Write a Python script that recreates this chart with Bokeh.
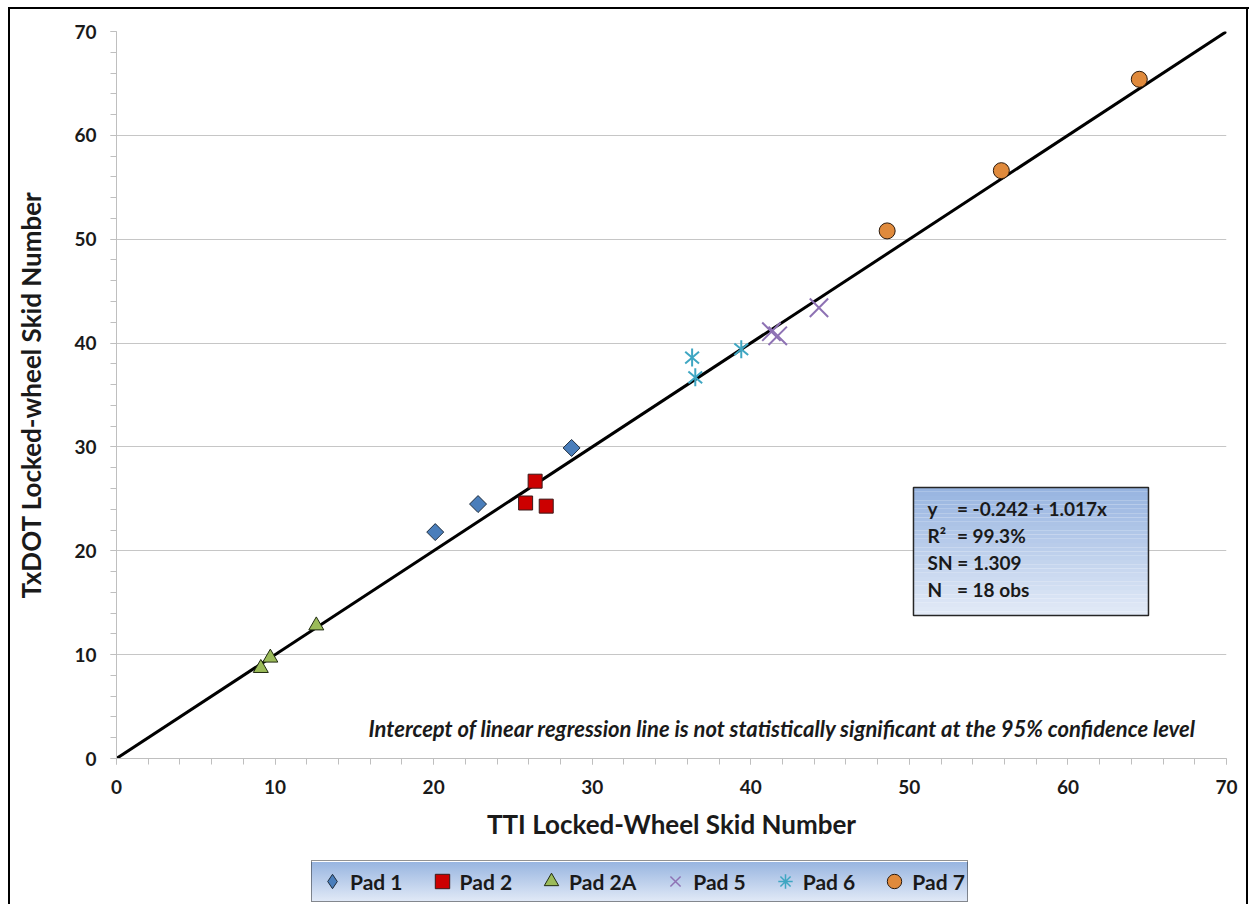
from bokeh.plotting import figure
from bokeh.layouts import column
from bokeh.models import FixedTicker, Label, Legend, LegendItem, Range1d
from bokeh.embed import file_html
from bokeh.resources import INLINE

# ---- data ----
pad1_x = [20.1, 22.8, 28.7]
pad1_y = [21.8, 24.5, 29.9]
pad2_x = [26.4, 25.8, 27.1]
pad2_y = [26.7, 24.6, 24.3]
pad2a_x = [9.1, 9.7, 12.6]
pad2a_y = [8.7, 9.7, 12.8]
pad5_x = [41.3, 41.7, 44.3]
pad5_y = [41.1, 40.7, 43.4]
pad6_x = [36.3, 36.5, 39.4]
pad6_y = [38.6, 36.7, 39.4]
pad7_x = [48.6, 55.8, 64.5]
pad7_y = [50.8, 56.6, 65.4]

line_x = [0, 70]
line_y = [0, 70]

major_ticks = [0, 10, 20, 30, 40, 50, 60, 70]
minor_ticks = list(range(0, 71, 2))

series_names = ["Pad 1", "Pad 2", "Pad 2A", "Pad 5", "Pad 6", "Pad 7"]
stats_lines = [("y", "= -0.242 + 1.017x"), ("R²", "= 99.3%"), ("SN = 1.309", ""), ("N", "= 18 obs")]
note_text = "Intercept of linear regression line is not statistically significant at the 95% confidence level"

FONT = "Lato"
TXT = "#1a1a1a"
W = 1249
H_MAIN = 846
H_LEG = 58

# ---------------- main chart ----------------
p = figure(width=W, height=H_MAIN, output_backend="svg", toolbar_location=None,
           x_range=Range1d(0, 70), y_range=Range1d(0, 70),
           min_border_left=116, min_border_top=31, min_border_right=23, min_border_bottom=H_MAIN - 758)
p.styles = {
    "background": "linear-gradient(#000,#000) 8px 7px / 2px 100% no-repeat, "
                  "linear-gradient(#000,#000) 8px 7px / 100% 2px no-repeat, "
                  "linear-gradient(#000,#000) 1246px 7px / 2px 100% no-repeat, white"
}
p.outline_line_color = None
p.background_fill_color = "white"
p.border_fill_alpha = 0

for ax in (p.xaxis[0], p.yaxis[0]):
    ax.ticker = FixedTicker(ticks=major_ticks, minor_ticks=minor_ticks)
    ax.axis_line_color = "#bfbfbf"
    ax.axis_line_width = 1
    ax.major_tick_line_color = "#bfbfbf"
    ax.minor_tick_line_color = "#bfbfbf"
    ax.major_tick_in = 0
    ax.major_tick_out = 6
    ax.minor_tick_in = 0
    ax.minor_tick_out = 6
    ax.major_label_text_font = FONT
    ax.major_label_text_font_style = "bold"
    ax.major_label_text_font_size = "19px"
    ax.major_label_text_color = TXT
    ax.axis_label_text_font = FONT
    ax.axis_label_text_font_style = "bold"
    ax.axis_label_text_font_size = "26px"
    ax.axis_label_text_color = TXT

p.xaxis.axis_label = "TTI Locked-Wheel Skid Number"
p.yaxis.axis_label = "TxDOT Locked-wheel Skid Number"
p.xaxis.major_label_standoff = 15
p.yaxis.major_label_standoff = 14
p.xaxis.axis_label_standoff = 11
p.yaxis.axis_label_standoff = 24

p.xgrid.grid_line_color = None
p.ygrid.ticker = FixedTicker(ticks=major_ticks)
p.ygrid.grid_line_color = "#c6c6c6"
p.ygrid.grid_line_width = 1

# stats box with vertical gradient (data coords)
bx0, bx1, by0, by1 = 50.26, 65.08, 13.77, 26.09
n = 30
top_c = (0x97, 0xb4, 0xe0)
bot_c = (0xe2, 0xea, 0xf7)
qb, qt, qc = [], [], []
for i in range(n):
    t = i / (n - 1)
    c = tuple(int(round(top_c[k] + (bot_c[k] - top_c[k]) * t)) for k in range(3))
    qt.append(by1 - (by1 - by0) * i / n)
    qb.append(by1 - (by1 - by0) * (i + 1) / n)
    qc.append("#%02x%02x%02x" % c)
p.quad(left=[bx0] * n, right=[bx1] * n, top=qt, bottom=qb, fill_color=qc, line_color=None)
p.quad(left=[bx0], right=[bx1], top=[by1], bottom=[by0], fill_color=None, line_color="#262626", line_width=1.5)

line_ys = [24.1, 21.5, 18.9, 16.3]
for (a, b), yy in zip(stats_lines, line_ys):
    p.add_layout(Label(x=51.15, y=yy, text=a, text_font=FONT, text_font_style="bold", text_font_size="19px",
                       text_color=TXT, text_baseline="middle", text_align="left"))
    if b:
        p.add_layout(Label(x=53.0, y=yy, text=b, text_font=FONT, text_font_style="bold", text_font_size="19px",
                           text_color=TXT, text_baseline="middle", text_align="left"))

p.add_layout(Label(x=68.1, y=2.9, text=note_text, text_font=FONT, text_font_style="bold italic",
                   text_font_size="22px", text_color=TXT, text_baseline="middle", text_align="right"))

# 1:1 line
p.line(line_x, line_y, line_color="black", line_width=3)

STY = [
    dict(marker="square", angle=0.785398, size=12, fill_color="#4a7ebb", line_color="#1f2d3d", line_width=1),
    dict(marker="square", size=14, fill_color="#cc0000", line_color="#3a1a1a", line_width=1),
    dict(marker="triangle", size=15, fill_color="#9bbb59", line_color="#1f2a10", line_width=1),
    dict(marker="x", size=26, line_color="#8e72b4", line_width=2),
    None,
    dict(marker="circle", size=16, fill_color="#e08a3c", line_color="#2b1a0d", line_width=1),
]
AST = [dict(marker="dash", angle=a, size=18, line_color="#3ea6c2", line_width=2) for a in (1.5708, 0.70, -0.70)]

# legend-strip glyph styles (legend glyphs ignore marker angle)
LEG_STY = [
    dict(marker="diamond", size=12, fill_color="#4a7ebb", line_color="#1f2d3d", line_width=1),
    STY[1], STY[2],
    dict(marker="x", size=12, line_color="#8e72b4", line_width=1.5),
    dict(marker="asterisk", size=12, line_color="#3ea6c2", line_width=1.5),
    STY[5],
]

xs = [pad1_x, pad2_x, pad2a_x, pad5_x, pad6_x, pad7_x]
ys = [pad1_y, pad2_y, pad2a_y, pad5_y, pad6_y, pad7_y]
for i in range(6):
    if STY[i] is None:
        for st in AST:
            p.scatter(xs[i], ys[i], **st)
    else:
        p.scatter(xs[i], ys[i], **STY[i])

# ---------------- legend strip ----------------
# same series drawn on a tiny range so the points fall outside the strip; only the legend shows
lf = figure(width=W, height=H_LEG, output_backend="svg", toolbar_location=None,
            x_range=Range1d(0, 1), y_range=Range1d(0, 1),
            min_border_left=0, min_border_right=0, min_border_top=0, min_border_bottom=0)
lf.styles = {
    "background": "linear-gradient(#000,#000) 8px 0px / 2px 100% no-repeat, "
                  "linear-gradient(#000,#000) 1246px 0px / 2px 100% no-repeat, "
                  "linear-gradient(#98b5e0, #e2eaf7) 311px 16px / 657px 40px no-repeat, white"
}
lf.axis.visible = False
lf.grid.grid_line_color = None
lf.outline_line_color = None
lf.background_fill_alpha = 0
lf.border_fill_alpha = 0

items = []
for i in range(6):
    items.append(LegendItem(label=series_names[i], renderers=[lf.scatter(xs[i], ys[i], **LEG_STY[i])]))

legend = Legend(items=items, orientation="horizontal", location=(195, 2),
                label_text_font=FONT, label_text_font_style="bold", label_text_font_size="21px",
                label_text_color=TXT, glyph_width=36, glyph_height=36, label_standoff=0,
                spacing=21, padding=2, margin=0,
                background_fill_alpha=0,
                border_line_color="#262626", border_line_width=1.5)
lf.add_layout(legend)

layout = column(p, lf, spacing=0)
open("out.html", "w").write(file_html(layout, INLINE))
